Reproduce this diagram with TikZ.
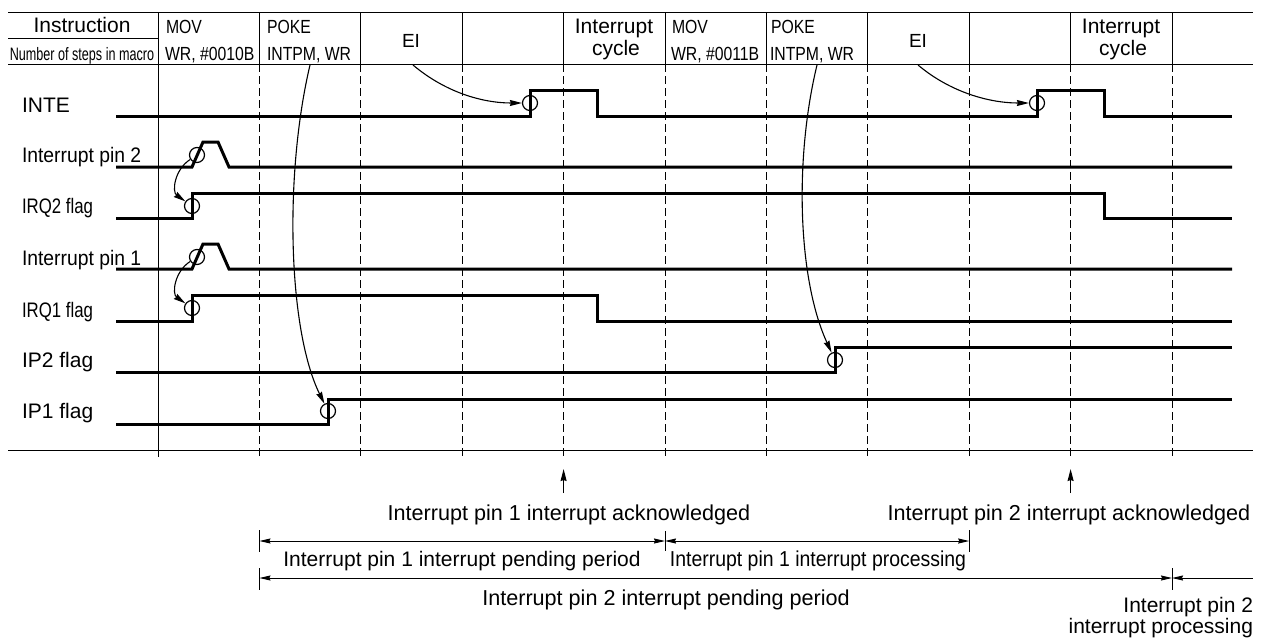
\documentclass[tikz,border=0pt]{standalone}
\usepackage{fontspec}
\setmainfont{Liberation Sans}
\newfontfamily\fcell[FakeStretch=0.83]{Liberation Sans}
\newfontfamily\firq[FakeStretch=0.80]{Liberation Sans}
\newfontfamily\fpin[FakeStretch=0.92]{Liberation Sans}
\newfontfamily\fsteps[FakeStretch=0.70]{Liberation Sans}
\newfontfamily\fproc[FakeStretch=0.90]{Liberation Sans}
\usetikzlibrary{arrows.meta}
\newcommand\szbig{\fontsize{21}{24}\selectfont}
\newcommand\szbot{\fontsize{21.6}{24}\selectfont}
\newcommand\szmid{\fontsize{19}{22}\selectfont}
\newcommand\szsmall{\fontsize{18}{20}\selectfont}
\tikzset{
  gridline/.style={line width=1pt},
  dashgrid/.style={line width=1pt, dash pattern=on 8pt off 4pt},
  sig/.style={line width=3pt, line join=miter},
  ring/.style={circle, draw, line width=1.2pt, minimum size=15pt, inner sep=0pt},
  curv/.style={line width=1.1pt, -{Stealth[length=12pt,width=6pt,inset=1pt]}},
  dimline/.style={line width=1pt, {Stealth[length=11pt,width=5pt,inset=1pt]}-{Stealth[length=11pt,width=5pt,inset=1pt]}},
  ackarrow/.style={line width=1.2pt, -{Stealth[length=12pt,width=6pt,inset=1pt]}},
  txt/.style={inner sep=0pt, outer sep=0pt}
}
\begin{document}
\begin{tikzpicture}[x=1pt,y=-1pt]
\useasboundingbox (0,0) rectangle (1268,637);
% frame lines
\draw[gridline] (8,12) -- (1253,12);
\draw[gridline] (8,38) -- (158,38);
\draw[gridline] (8,64) -- (1253,64);
\draw[gridline] (8,450) -- (1253,450);
\draw[gridline] (158,12) -- (158,457);
\foreach \x in {259.4,360.8,462.2,563.6,665,766.4,867.8,969.2,1070.6,1172} {
  \draw[gridline] (\x,12) -- (\x,64);
  \draw[dashgrid] (\x,64) -- (\x,457);
}
% header texts
\node[txt, anchor=base] (hinstr) at (82,32) {\szbig Instruction};
\node[txt, anchor=base] (hsteps) at (82,60) {\fsteps\szsmall Number of steps in macro};
\node[txt, anchor=base west] (mova) at (166,33) {\fcell\szmid MOV};
\node[txt, anchor=base west] (movb) at (165,60) {\fcell\szmid WR, \#0010B};
\node[txt, anchor=base west] (pokea) at (267,33) {\fcell\szmid POKE};
\node[txt, anchor=base west] (pokeb) at (267,60) {\fcell\szmid INTPM, WR};
\node[txt, anchor=base] (eia) at (411,47) {\szmid EI};
\node[txt, anchor=base] (icya) at (614,33) {\szbig Interrupt};
\node[txt, anchor=base] (icyb) at (616,55) {\szbig cycle};
\node[txt, anchor=base west] (movc) at (672,33) {\fcell\szmid MOV};
\node[txt, anchor=base west] (movd) at (671,60) {\fcell\szmid WR, \#0011B};
\node[txt, anchor=base west] (pokec) at (771,33) {\fcell\szmid POKE};
\node[txt, anchor=base west] (poked) at (770,60) {\fcell\szmid INTPM, WR};
\node[txt, anchor=base] (eib) at (918,47) {\szmid EI};
\node[txt, anchor=base] (icyc) at (1121,33) {\szbig Interrupt};
\node[txt, anchor=base] (icyd) at (1123,55) {\szbig cycle};
% signal labels
\node[txt, anchor=base west] (linte) at (22,112) {\szbig INTE};
\node[txt, anchor=base west] (lpin2) at (22,162) {\fpin\szbig Interrupt pin 2};
\node[txt, anchor=base west] (lirq2) at (22,213) {\firq\szbig IRQ2 flag};
\node[txt, anchor=base west] (lpin1) at (22,265) {\fpin\szbig Interrupt pin 1};
\node[txt, anchor=base west] (lirq1) at (22,317) {\firq\szbig IRQ1 flag};
\node[txt, anchor=base west] (lip2) at (22,367) {\szbig IP2 flag};
\node[txt, anchor=base west] (lip1) at (22,418) {\szbig IP1 flag};
% signals
\draw[sig] (116,116) -- (530,116) -- (530,90) -- (597,90) -- (597,116) -- (1037,116) -- (1037,90) -- (1104,90) -- (1104,116) -- (1232,116);
\draw[sig] (116,167) -- (192,167) -- (203,142) -- (218,142) -- (229,167) -- (1232,167);
\draw[sig] (116,218) -- (192,218) -- (192,193) -- (1104,193) -- (1104,218) -- (1232,218);
\draw[sig] (116,269) -- (192,269) -- (203,244) -- (218,244) -- (229,269) -- (1232,269);
\draw[sig] (116,321) -- (192,321) -- (192,295) -- (597,295) -- (597,321) -- (1232,321);
\draw[sig] (116,372) -- (835,372) -- (835,347) -- (1232,347);
\draw[sig] (116,424) -- (328,424) -- (328,399) -- (1232,399);
% rings
\node[ring] (inte1) at (530,103) {};
\node[ring] (inte2) at (1037,103) {};
\node[ring] (pin2) at (197,155) {};
\node[ring] (irq2) at (192,206) {};
\node[ring] (pin1) at (197,257) {};
\node[ring] (irq1) at (192,308) {};
\node[ring] (ip2) at (835,360) {};
\node[ring] (ip1) at (328,411) {};
% causal arrows
\coordinate (eis1) at (413,65);
\coordinate (eis2) at (918,65);
\coordinate (pks1) at (310,65);
\coordinate (pks2) at (817,65);
\draw[curv] (eis1) .. controls (445,92) and (482,103) .. (inte1);
\draw[curv] (eis2) .. controls (950,92) and (989,103) .. (inte2);
\draw[curv] (pks1) .. controls (284,175) and (288,330) .. (ip1);
\draw[curv] (pks2) .. controls (794,160) and (798,280) .. (ip2);
\draw[curv] (pin2) .. controls (174,170) and (172,192) .. (irq2);
\draw[curv] (pin1) .. controls (174,272) and (172,294) .. (irq1);
% acknowledged arrows
\coordinate (ak1b) at (563.6,493);
\coordinate (ak1t) at (563.6,469);
\coordinate (ak2b) at (1070.6,493);
\coordinate (ak2t) at (1070.6,469);
\draw[ackarrow] (ak1b) -- (ak1t);
\draw[ackarrow] (ak2b) -- (ak2t);
\node[txt, anchor=base] (ack1) at (569,520) {\szbot Interrupt pin 1 interrupt acknowledged};
\node[txt, anchor=base] (ack2) at (1069,520) {\szbot Interrupt pin 2 interrupt acknowledged};
% dimension row 1
\coordinate (d1a) at (259.4,541);
\coordinate (d1b) at (665,541);
\coordinate (d1c) at (969.2,541);
\draw[gridline] (259.4,530) -- (259.4,552);
\draw[gridline] (665,531) -- (665,551);
\draw[gridline] (969.2,530) -- (969.2,552);
\draw[dimline] (d1a) -- (d1b);
\draw[dimline] (d1b) -- (d1c);
\node[txt, anchor=base] (pend1) at (462,566) {\szbig Interrupt pin 1 interrupt pending period};
\node[txt, anchor=base] (proc1) at (818,566) {\fproc\szbot Interrupt pin 1 interrupt processing};
% dimension row 2
\coordinate (d2a) at (259.4,578);
\coordinate (d2b) at (1172,578);
\coordinate (d2c) at (1253,578);
\draw[gridline] (259.4,568) -- (259.4,590);
\draw[gridline] (1172,568) -- (1172,590);
\draw[dimline] (d2a) -- (d2b);
\draw[line width=1pt, {Stealth[length=11pt,width=5pt,inset=1pt]}-] (d2b) -- (d2c);
\node[txt, anchor=base] (pend2) at (666,605) {\szbot Interrupt pin 2 interrupt pending period};
\node[txt, anchor=base east] (proc2a) at (1253,612) {\szbig Interrupt pin 2};
\node[txt, anchor=base east] (proc2b) at (1253,633) {\szbig interrupt processing};
\end{tikzpicture}
\end{document}
